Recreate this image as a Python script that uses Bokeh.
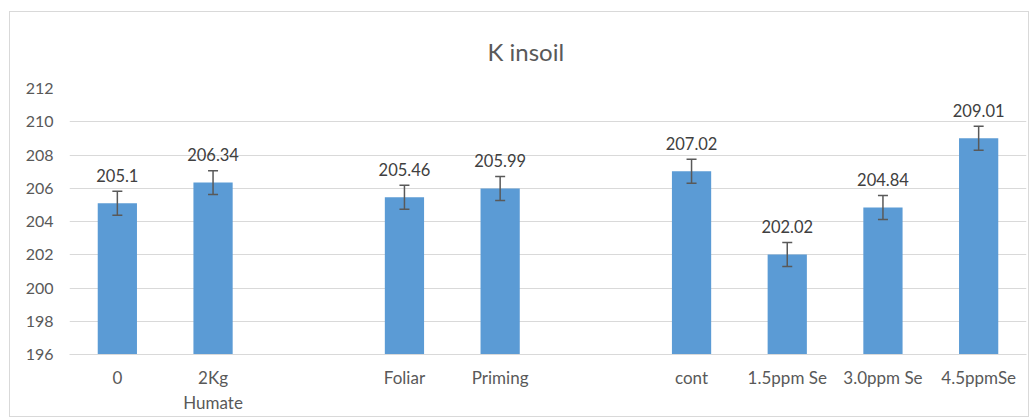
from bokeh.plotting import figure
from bokeh.models import ColumnDataSource, Whisker, TeeHead, FixedTicker, Range1d
from bokeh.core.properties import value
from bokeh.embed import file_html
from bokeh.resources import INLINE

slots = ["0", "2Kg\nHumate", "", "Foliar", "Priming", "", "cont", "1.5ppm Se", "3.0ppm Se", "4.5ppmSe"]
categories = ["0", "2Kg\nHumate", "Foliar", "Priming", "cont", "1.5ppm Se", "3.0ppm Se", "4.5ppmSe"]
values = [205.1, 206.34, 205.46, 205.99, 207.02, 202.02, 204.84, 209.01]
errors = [0.72, 0.72, 0.72, 0.72, 0.72, 0.72, 0.72, 0.72]
labels = ["205.1", "206.34", "205.46", "205.99", "207.02", "202.02", "204.84", "209.01"]
y_ticks = [196, 198, 200, 202, 204, 206, 208, 210, 212]
title_text = "K insoil"

FONT = "Lato"
xpos = [slots.index(c) for c in categories]
src = ColumnDataSource(dict(
    x=xpos, top=values,
    upper=[v + e for v, e in zip(values, errors)],
    lower=[v - e for v, e in zip(values, errors)],
    label=labels,
))

p = figure(width=1020, height=406, output_backend="svg", toolbar_location=None,
           x_range=Range1d(-0.5, len(slots) - 0.5), y_range=Range1d(196, 212),
           min_border_left=59, min_border_right=4, min_border_top=76, min_border_bottom=64,
           title=title_text)
p.styles = {"border": "1px solid #d9d9d9", "margin-left": "9px", "margin-top": "11px"}
p.outline_line_color = None
p.background_fill_color = "white"

p.title.align = "left"
p.title.offset = 418
p.title.vertical_align = "top"
p.title.text_font = FONT
p.title.text_font_size = "24px"
p.title.text_font_style = "normal"
p.title.text_color = "#595959"
p.title.standoff = 41

p.vbar(x="x", top="top", bottom=196, width=0.41, source=src,
       fill_color="#5b9bd5", line_color=None)

w = Whisker(base="x", upper="upper", lower="lower", source=src,
            line_color="#595959", line_width=1.5, level="overlay",
            upper_head=TeeHead(size=10, line_color="#595959", line_width=1.5),
            lower_head=TeeHead(size=10, line_color="#595959", line_width=1.5))
p.add_layout(w)

p.text(x="x", y="top", text="label", source=src, text_align="center",
       text_baseline="middle", y_offset=-28, text_font=value(FONT),
       text_font_size="16.5px", text_color="#404040")

p.xgrid.grid_line_color = None
p.ygrid.grid_line_color = "#d9d9d9"
p.ygrid.grid_line_width = 1

p.yaxis.ticker = FixedTicker(ticks=y_ticks)
p.yaxis.axis_line_color = None
p.yaxis.major_tick_line_color = None
p.yaxis.major_tick_out = 0
p.yaxis.minor_tick_line_color = None
p.yaxis.major_label_standoff = 16
p.yaxis.major_label_text_font = FONT
p.yaxis.major_label_text_font_size = "16px"
p.yaxis.major_label_text_color = "#595959"

p.xaxis.ticker = FixedTicker(ticks=list(range(len(slots))))
p.xaxis.major_label_overrides = {i: s for i, s in enumerate(slots)}
p.xaxis.axis_line_color = "#d9d9d9"
p.xaxis.major_tick_line_color = None
p.xaxis.major_tick_out = 0
p.xaxis.minor_tick_line_color = None
p.xaxis.major_label_standoff = 12
p.xaxis.major_label_text_font = FONT
p.xaxis.major_label_text_font_size = "17px"
p.xaxis.major_label_text_color = "#595959"

open("out.html", "w").write(file_html(p, INLINE))
